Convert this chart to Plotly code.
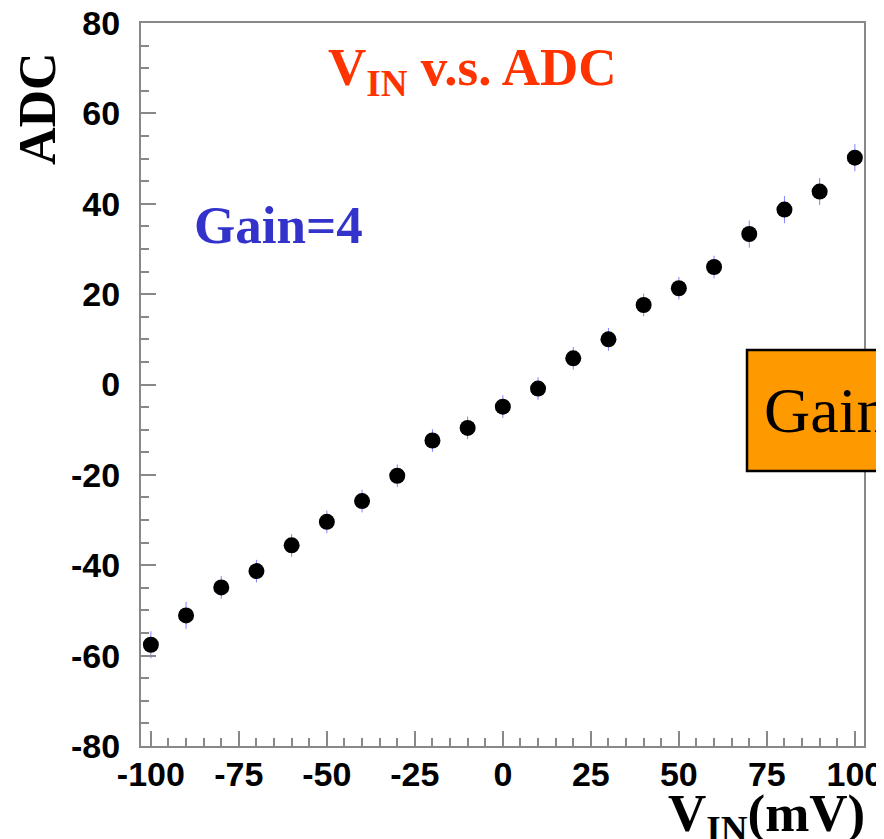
import plotly.graph_objects as go

vin = [-100, -90, -80, -70, -60, -50, -40, -30, -20, -10, 0, 10, 20, 30, 40, 50, 60, 70, 80, 90, 100]
adc = [-57.6, -51.1, -44.9, -41.3, -35.6, -30.4, -25.8, -20.2, -12.4, -9.6, -4.9, -0.9,
       5.8, 10.0, 17.6, 21.3, 26.0, 33.3, 38.7, 42.7, 50.2]
adc_err = [3, 3, 2.5, 2.5, 2.5, 2.5, 2.5, 2.5, 2.5, 2.5, 2.5, 2.5, 2.5, 2.5, 2.5, 2.5, 2.5, 3, 3, 3, 3]
xticks = [-100, -75, -50, -25, 0, 25, 50, 75, 100]
yticks = [-80, -60, -40, -20, 0, 20, 40, 60, 80]

# page offset (default body margin of the html page)
OFF = 8
FW, FH = 884 - OFF, 839 - OFF
L, T, W, H = 141, 23, 723, 723   # plot area in page pixels
def px(X):
    return (X - L) / W
def py(Y):
    return (T + H - Y) / H

fig = go.Figure()
fig.add_trace(go.Scatter(
    x=vin, y=adc, mode="markers",
    marker=dict(color="black", size=16),
    error_y=dict(type="data", array=adc_err, color="#8080ff", thickness=1, width=0),
    showlegend=False, cliponaxis=False,
))

axis_common = dict(
    showgrid=False, zeroline=False, showline=True, linecolor="#888888", linewidth=2,
    mirror=True, ticks="inside", tickcolor="#888888", tickwidth=1.5, ticklen=15,
    tickfont=dict(family="Liberation Sans", size=34, color="black", weight="bold"),
    automargin=False, ticklabeloverflow="allow",
)
fig.update_xaxes(range=[-102.8, 102.6], tickvals=xticks, ticktext=[str(v) for v in xticks],
                 minor=dict(dtick=5, tick0=0, ticks="inside", ticklen=8, tickcolor="#888888", tickwidth=1.5),
                 ticklabelstandoff=-3, **axis_common)
fig.update_yaxes(range=[-80, 80], tickvals=yticks, ticktext=[str(v) for v in yticks],
                 minor=dict(dtick=5, tick0=0, ticks="inside", ticklen=8, tickcolor="#888888", tickwidth=1.5),
                 ticklabelstandoff=12, **axis_common)

serif = "Liberation Serif"
anns = [
    dict(text="<b>V<sub>IN</sub> v.s. ADC</b>", x=px(472), y=py(36), xanchor="center", yanchor="top",
         font=dict(family=serif, size=53, color="#ff3300")),
    dict(text="<b>Gain=4</b>", x=px(278), y=py(225), xanchor="center", yanchor="middle",
         font=dict(family=serif, size=53, color="#3333cc")),
    dict(text="<b>ADC</b>", x=px(37), y=py(109), xanchor="center", yanchor="middle", textangle=-90,
         font=dict(family=serif, size=52, color="black")),
    dict(text="<b>V<sub>IN</sub>(mV)</b>", x=px(867), y=py(852), xanchor="right", yanchor="bottom",
         font=dict(family=serif, size=53, color="black")),
    dict(text="Gain=4", x=px(762), y=py(410), xanchor="left", yanchor="middle",
         font=dict(family=serif, size=64, color="black")),
]
for a in anns:
    a.update(xref="paper", yref="paper", showarrow=False)
fig.update_layout(annotations=anns)

fig.add_shape(type="rect", xref="paper", yref="paper", x0=px(747), x1=px(960), y0=py(471), y1=py(350),
              fillcolor="#ff9900", line=dict(color="black", width=2.5), layer="above")

fig.update_layout(
    width=FW, height=FH, paper_bgcolor="white", plot_bgcolor="white",
    margin=dict(l=L - OFF, r=FW - (L + W - OFF), t=T - OFF, b=FH - (T + H - OFF)),
)
fig.write_html("out.html")
